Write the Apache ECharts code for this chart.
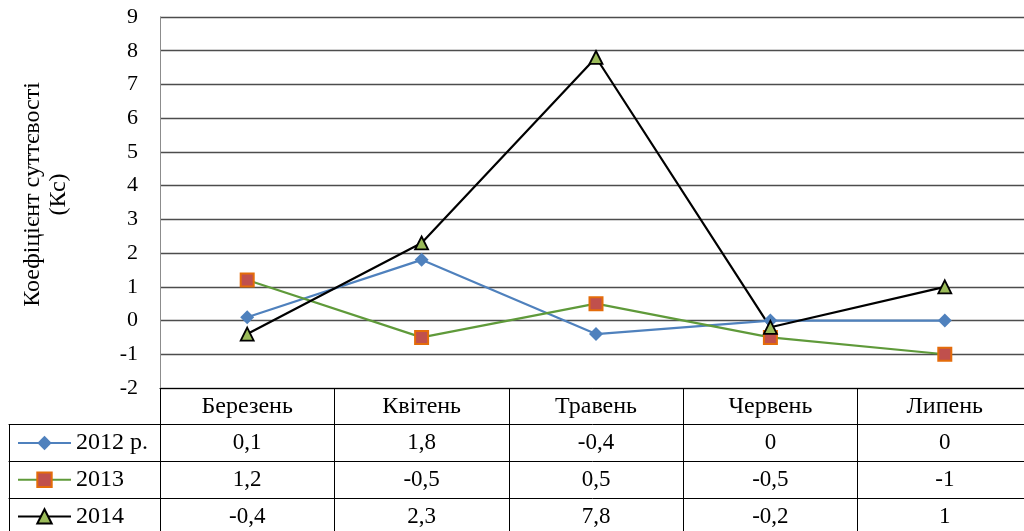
<!DOCTYPE html>
<html>
<head>
<meta charset="utf-8">
<script src="https://cdn.jsdelivr.net/npm/echarts@6/dist/echarts.min.js"></script>
<style>
  html, body { margin: 0; padding: 0; background: #fff; }
  #chart { width: 1024px; height: 531px; }
</style>
</head>
<body>
<div id="chart"></div>
<script>
// Місяці та значення коефіцієнта суттєвості (Кс)
const months = ['Березень', 'Квітень', 'Травень', 'Червень', 'Липень'];
const seriesNames = ['2012 р.', '2013', '2014'];
const values2012 = [0.1, 1.8, -0.4, 0, 0];
const values2013 = [1.2, -0.5, 0.5, -0.5, -1];
const values2014 = [-0.4, 2.3, 7.8, -0.2, 1];
const yTicks = { min: -2, max: 9, step: 1 };

const FONT = 'Liberation Serif';
const fmt = v => String(v).replace('.', ',');

// Рядки таблиці даних під графіком
const tableRows = [values2012, values2013, values2014];
const ROW_H = 36.7;

const chart = echarts.init(document.getElementById('chart'), null, { renderer: 'canvas' });

const xAxes = [
  {
    type: 'category',
    gridIndex: 0,
    data: months,
    position: 'bottom',
    boundaryGap: true,
    axisLine: { show: true, onZero: false, lineStyle: { color: '#000', width: 1 } },
    axisTick: { show: true, interval: 0, alignWithLabel: false, length: 150, lineStyle: { color: '#000', width: 1 } },
    axisLabel: { interval: 0, margin: 7, color: '#000', fontFamily: FONT, fontSize: 24 },
    splitLine: { show: false }
  }
];
tableRows.forEach((row, i) => {
  xAxes.push({
    type: 'category',
    gridIndex: 0,
    data: row.map(fmt),
    position: 'bottom',
    offset: ROW_H * (i + 1),
    axisLine: { show: true, onZero: false, lineStyle: { color: '#000', width: 1 } },
    axisTick: { show: false },
    axisLabel: { interval: 0, margin: 7, color: '#000', fontFamily: FONT, fontSize: 23 },
    splitLine: { show: false }
  });
});
// Колонка легенди зліва від таблиці
for (let i = 0; i < 3; i++) {
  xAxes.push({
    type: 'category',
    gridIndex: 1,
    data: [''],
    position: 'bottom',
    offset: ROW_H * (i + 1),
    axisLine: { show: true, onZero: false, lineStyle: { color: '#000', width: 1 } },
    axisTick: { show: i === 0, interval: 0, alignWithLabel: false, length: 115, lineStyle: { color: '#000', width: 1 } },
    axisLabel: { show: false },
    splitLine: { show: false }
  });
}

const option = {
  animation: false,
  backgroundColor: '#fff',
  grid: [
    { left: 160, top: 17, width: 872, height: 371, containLabel: false, outerBoundsMode: 'none' },
    { left: 9, top: 17, width: 151, height: 371, containLabel: false, outerBoundsMode: 'none' }
  ],
  legend: {
    orient: 'vertical',
    left: 17,
    top: 431,
    padding: 0,
    itemWidth: 53,
    itemHeight: 18,
    itemGap: 12.7,
    textStyle: { color: '#000', fontFamily: FONT, fontSize: 24, lineHeight: 24 },
    data: seriesNames
  },
  xAxis: xAxes,
  yAxis: [
    {
      type: 'value',
      gridIndex: 0,
      min: yTicks.min,
      max: yTicks.max,
      interval: yTicks.step,
      name: 'Коефіцієнт суттєвості\n(Кс)',
      nameLocation: 'middle',
      nameRotate: 90,
      nameGap: 88,
      nameTextStyle: { color: '#000', fontFamily: FONT, fontSize: 24, lineHeight: 26, padding: [0, 0, 0, 16] },
      axisLine: { show: true, lineStyle: { color: '#8c8c8c', width: 1 } },
      axisTick: { show: false },
      axisLabel: { margin: 22, color: '#000', fontFamily: FONT, fontSize: 22 },
      splitLine: { show: true, lineStyle: { color: '#4d4d4d', width: 1.4 } }
    },
    {
      type: 'value',
      gridIndex: 1,
      min: 0,
      max: 1,
      show: false
    }
  ],
  series: [
    {
      name: seriesNames[0],
      type: 'line',
      data: values2012,
      symbol: 'diamond',
      symbolSize: 14,
      lineStyle: { color: '#4f81bd', width: 2.2 },
      itemStyle: { color: '#4f81bd' }
    },
    {
      name: seriesNames[1],
      type: 'line',
      data: values2013,
      symbol: 'rect',
      symbolSize: 13,
      lineStyle: { color: '#5f9a3a', width: 2.2 },
      itemStyle: { color: '#c0504d', borderColor: '#e46c0a', borderWidth: 2 }
    },
    {
      name: seriesNames[2],
      type: 'line',
      data: values2014,
      symbol: 'triangle',
      symbolSize: 13,
      lineStyle: { color: '#000', width: 2.2 },
      itemStyle: { color: '#9bbb59', borderColor: '#000', borderWidth: 1.8 }
    }
  ]
};

chart.setOption(option);
</script>
</body>
</html>
